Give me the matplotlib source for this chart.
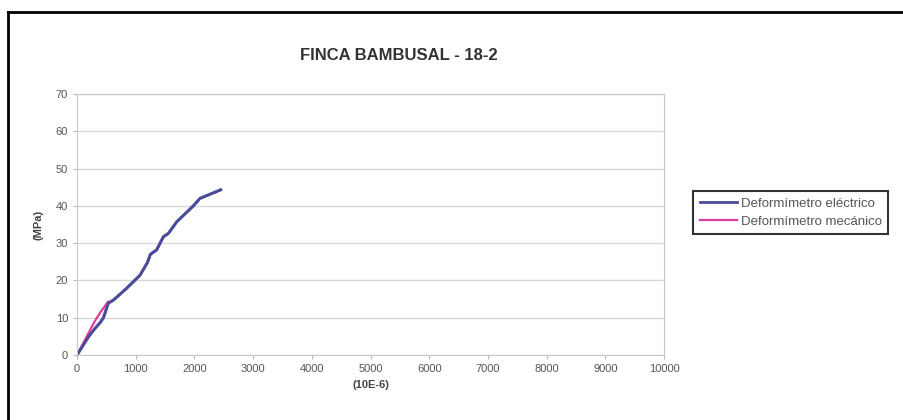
import matplotlib
matplotlib.use('Agg')
import matplotlib.pyplot as plt
from matplotlib.lines import Line2D

plt.rcParams['font.family'] = ['Liberation Sans', 'DejaVu Sans']

# Deformimetro electrico (strain 10E-6, stress MPa)
elec_x = [0, 100, 200, 300, 400, 450, 533, 619, 846, 1073, 1200, 1250, 1357,
          1442, 1471, 1556, 1698, 1982, 2095, 2448]
elec_y = [0, 2.5, 5.0, 7.0, 8.8, 10.0, 13.9, 14.7, 17.9, 21.4, 24.8, 27.0, 28.2,
          30.8, 31.7, 32.6, 35.7, 40.0, 42.0, 44.3]

# Deformimetro mecanico
mech_x = [0, 100, 200, 300, 400, 530]
mech_y = [0, 3.0, 6.0, 9.0, 11.5, 14.3]

title = 'FINCA BAMBUSAL - 18-2'
x_ticks = list(range(0, 10001, 1000))
y_ticks = list(range(0, 71, 10))

fig = plt.figure(figsize=(9.04, 4.2), dpi=100)
ax = fig.add_axes([0.0852, 0.1548, 0.6493, 0.6214])

ax.plot(elec_x, elec_y, color='#4a4c9a', linewidth=2, label='Deformímetro eléctrico')
ax.plot(mech_x, mech_y, color='#e03a9e', linewidth=1.6, label='Deformímetro mecánico')
ax.plot(elec_x, elec_y, color='#4a4c9a', linewidth=2)

ax.set_xlim(0, 10000)
ax.set_ylim(0, 70)
ax.set_xticks(x_ticks)
ax.set_yticks(y_ticks)
ax.yaxis.grid(True, color='#d8d8d8', linewidth=1)
ax.set_axisbelow(True)
for s in ax.spines.values():
    s.set_color('#c8c8c8')
ax.tick_params(colors='#bbbbbb', labelcolor='#555555', labelsize=8, length=3)

ax.set_xlabel('(10E-6)', fontsize=8, fontweight='bold', color='#444444', labelpad=4)
ax.set_ylabel('(MPa)', fontsize=8, fontweight='bold', color='#444444', labelpad=9)
fig.text(0.441, 0.868, title, ha='center', va='center', fontsize=12,
         fontweight='bold', color='#333333')

leg = fig.legend(loc='center left', bbox_to_anchor=(0.767, 0.494), fontsize=9.5,
                 frameon=True, fancybox=False, handlelength=2.8,
                 borderpad=0.5, labelspacing=0.45, handletextpad=0.3,
                 borderaxespad=0)
leg.get_frame().set_edgecolor('black')
leg.get_frame().set_linewidth(1.5)
for t in leg.get_texts():
    t.set_color('#555555')

# outer chart frame (left and top edges visible)
fig.add_artist(Line2D([0.009, 0.009], [0, 0.971], transform=fig.transFigure,
                      color='black', linewidth=2))
fig.add_artist(Line2D([0.009, 1.0], [0.971, 0.971], transform=fig.transFigure,
                      color='black', linewidth=2))

fig.savefig('out.png', dpi=100)
